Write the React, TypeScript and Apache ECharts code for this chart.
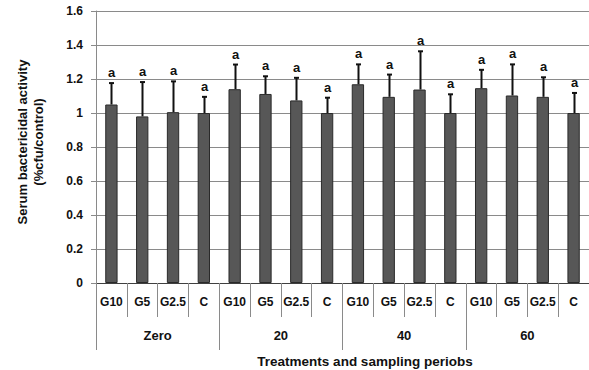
import React, { useEffect, useRef } from "react";
import * as echarts from "echarts";

const treatments = ["G10", "G5", "G2.5", "C", "G10", "G5", "G2.5", "C", "G10", "G5", "G2.5", "C", "G10", "G5", "G2.5", "C"];
const periods = ["Zero", "20", "40", "60"];
const means = [1.05, 0.98, 1.005, 1.0, 1.14, 1.112, 1.074, 1.0, 1.169, 1.095, 1.138, 1.0, 1.146, 1.103, 1.095, 1.0];
const upper = [1.176, 1.182, 1.186, 1.095, 1.285, 1.216, 1.207, 1.09, 1.286, 1.226, 1.363, 1.11, 1.254, 1.286, 1.21, 1.118];
const letters = ["a", "a", "a", "a", "a", "a", "a", "a", "a", "a", "a", "a", "a", "a", "a", "a"];
const yTicks = { min: 0, max: 1.6, interval: 0.2 };

const FONT = "Arial, 'Liberation Sans', sans-serif";

export default function App() {
  const ref = useRef<HTMLDivElement>(null);
  useEffect(() => {
    if (!ref.current) return;
    const chart = echarts.init(ref.current, null, { renderer: "svg" });
    const errData = means.map((m, i) => [i, m, upper[i]]);
    chart.setOption({
      animation: false,
      backgroundColor: "#fff",
      grid: { left: 96, right: 0, top: 11, bottom: 87, containLabel: false },
      xAxis: [
        {
          type: "category",
          data: treatments,
          position: "bottom",
          axisLine: { show: true, lineStyle: { color: "#404040", width: 1 } },
          axisTick: { show: true, interval: 0, length: 34, lineStyle: { color: "#8a8a8a" } },
          axisLabel: { interval: 0, margin: 13, color: "#111", fontWeight: "bold", fontSize: 12, fontFamily: FONT },
        },
        {
          type: "category",
          data: periods,
          position: "bottom",
          axisLine: { show: false },
          axisTick: { show: true, interval: 0, length: 67, lineStyle: { color: "#8a8a8a" } },
          axisLabel: { interval: 0, margin: 46, color: "#111", fontWeight: "bold", fontSize: 13, fontFamily: FONT },
        },
      ],
      yAxis: {
        type: "value",
        min: yTicks.min,
        max: yTicks.max,
        interval: yTicks.interval,
        axisLine: { show: true, lineStyle: { color: "#8a8a8a" } },
        axisTick: { show: true, length: 5, lineStyle: { color: "#8a8a8a" } },
        axisLabel: { margin: 13, color: "#111", fontWeight: "bold", fontSize: 12, fontFamily: FONT },
        splitLine: { show: true, lineStyle: { color: "#8a8a8a", width: 1 } },
      },
      series: [
        {
          type: "bar",
          xAxisIndex: 0,
          data: means,
          barWidth: "40%",
          itemStyle: { color: "#575757", borderColor: "#2a2a2a", borderWidth: 1 },
          z: 2,
        },
        {
          type: "custom",
          xAxisIndex: 0,
          data: errData,
          z: 3,
          renderItem: (params: any, api: any) => {
            const i = api.value(0);
            const p0 = api.coord([i, api.value(1)]);
            const p1 = api.coord([i, api.value(2)]);
            const x = Math.round(p0[0]) + 0.5;
            return {
              type: "group",
              children: [
                { type: "line", shape: { x1: x, y1: p0[1], x2: x, y2: p1[1] }, style: { stroke: "#111", lineWidth: 2 } },
                { type: "line", shape: { x1: x - 2.5, y1: p1[1], x2: x + 2.5, y2: p1[1] }, style: { stroke: "#111", lineWidth: 2 } },
                {
                  type: "text",
                  x: x,
                  y: p1[1] - 4,
                  style: { text: letters[params.dataIndex], fill: "#111", font: `bold 13px ${FONT}`, align: "center", verticalAlign: "bottom" },
                },
              ],
            };
          },
        },
      ],
      graphic: [
        {
          type: "text",
          x: 30.5,
          y: 142,
          rotation: Math.PI / 2,
          style: {
            text: "Serum bactericidal activity\n(%cfu/control)",
            font: `bold 13px ${FONT}`,
            fill: "#111",
            align: "center",
            verticalAlign: "middle",
            lineHeight: 16,
          },
        },
        {
          type: "text",
          x: 365,
          y: 361,
          style: {
            text: "Treatments and sampling periobs",
            font: `bold 13.5px ${FONT}`,
            fill: "#111",
            align: "center",
            verticalAlign: "middle",
          },
        },
      ],
    });
    return () => chart.dispose();
  }, []);
  return <div ref={ref} style={{ width: 589, height: 370, position: "absolute", left: 0, top: 0 }} />;
}
